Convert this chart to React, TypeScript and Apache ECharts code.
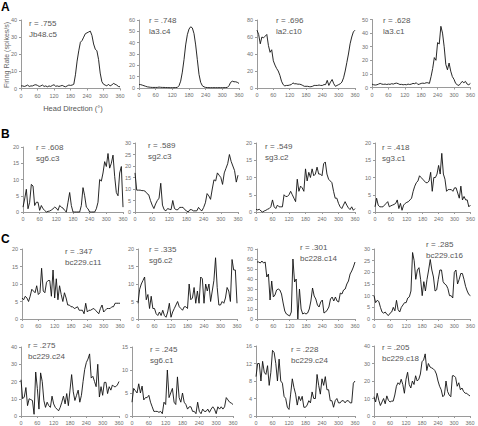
import React, { useEffect, useRef } from "react";
import * as echarts from "echarts";

const ANGLES = [
  0, 6, 12, 18, 24, 30, 36, 42, 48, 54,
  60, 66, 72, 78, 84, 90, 96, 102, 108, 114,
  120, 126, 132, 138, 144, 150, 156, 162, 168, 174,
  180, 186, 192, 198, 204, 210, 216, 222, 228, 234,
  240, 246, 252, 258, 264, 270, 276, 282, 288, 294,
  300, 306, 312, 318, 324, 330, 336, 342, 348, 354,
  360,
];

const X_TICK_STEP = 60;
const X_MAX = 360;

const jb48c5 = [
  1.5, 1.5, 1.2, 1.5, 2, 1.2, 1.5, 1.5, 2, 2.2,
  1.8, 1.2, 1.5, 2, 1.2, 1.5, 1, 1.5, 1.2, 1.8,
  2.2, 1.3, 1.5, 1.2, 1.5, 1.8, 1.3, 1, 1.5, 2,
  1.8, 2, 2.5, 8, 16, 22, 27, 28, 30, 32,
  32.5, 33, 33.5, 31, 26, 23, 22, 17, 9, 4,
  2.5, 2, 1.5, 2.5, 1.5, 2, 3, 2.5, 2, 1.2,
  1,
];
const la3c4 = [
  3, 3, 2.5, 2, 1.5, 1, 0.8, 0.6, 0.5, 0.5,
  0.5, 0.5, 0.8, 0.6, 0.5, 0.5, 0.4, 0.4, 0.3, 0.3,
  0.3, 0.3, 0.4, 0.5, 2, 6, 14, 25, 38, 47,
  52, 54, 53, 48, 38, 25, 12, 5, 2, 1,
  0.5, 0.4, 0.3, 0.3, 0.3, 0.3, 0.3, 0.3, 0.3, 0.3,
  0.3, 0.3, 0.4, 0.5, 2, 5, 6, 5.5, 5.5, 5,
  4,
];
const la2c10 = [
  68, 63, 52, 60, 59, 61, 63, 50, 42, 45,
  32, 27, 23, 20, 15, 8, 4, 2.5, 3, 3,
  3.5, 4, 6, 5, 5, 4.5, 4.5, 4, 3, 2,
  2, 2, 1.5, 1.5, 2, 3, 3, 3, 3.5, 3,
  3, 4, 4, 9, 3, 7, 10, 5, 2, 3,
  4, 5, 7, 12, 20, 30, 40, 52, 60, 66,
  68,
];
const la3c1 = [
  2.5, 2, 1.8, 2, 2.5, 3, 2.5, 2.3, 2.5, 2.2,
  2.5, 2.3, 2.8, 2.5, 3, 3.2, 2.8, 2.2, 2.3, 2,
  2.2, 2, 2.5, 2.2, 2.5, 3, 2.8, 3.5, 2.2, 2.5,
  3, 3.2, 3, 3.5, 3.5, 3, 8, 14, 22, 20,
  33, 32, 45, 40, 30, 17, 13, 18, 12, 8,
  6, 3, 2, 1.5, 3, 4.5, 3.5, 4.5, 2.5, 2,
  3,
];
const sg6c3 = [
  1.5, 4, 7, 1, 3, 8.5, 8, 2, 3, 3,
  0.5, 2, 1, 0.5, 0, 0.2, 0.3, 0.6, 1, 1.5,
  1.2, 0.5, 2, 1.5, 1.2, 0.5, 0, 3, 6, 2,
  0, 0, 0, 0, 0, 2, 7.5, 5, 1.5, 1,
  0, 0, 0, 0, 1, 3, 10, 9.5, 12, 15.5,
  14, 18, 13.5, 15, 17.5, 11, 6, 5, 12, 14,
  1.5,
];
const sg2c3 = [
  17, 9.5, 9.5, 9.5, 9.3, 9.3, 9, 8, 7.5, 5,
  3, 1.5, 3.5, 5, 6, 12.5, 3, 1, 0.5, 1.5,
  1.2, 1, 5, 1.5, 1, 1, 2, 2, 2, 1,
  0.5, 0, 1, 1, 0.5, 0.5, 0.5, 2, 1, 0.5,
  2, 4, 8, 7, 5.5, 10, 14, 13.5, 17, 16,
  15, 12, 17, 19, 21, 25, 22, 20, 18, 13,
  16,
];
const sg3c2 = [
  0.8, 0.6, 0.8, 0.3, 0, 0.3, 0.5, 0.8, 1, 1.5,
  3.5, 1.5, 1, 2, 1.5, 1.5, 1.5, 5, 4.5, 4.5,
  5, 6, 5, 4, 3, 9.5, 6, 7.5, 7, 6,
  12.5, 9, 11.5, 10, 12.5, 10.5, 11, 13, 11, 11,
  10.5, 14, 14.5, 11, 9.5, 9, 8.5, 6, 4, 4,
  2.5, 1.5, 1, 2, 3, 2, 1.2, 0.7, 1.5, 0.5,
  1,
];
const sg3c1 = [
  1.5, 4, 2, 1.5, 1.5, 1.5, 2, 2.5, 3, 1.5,
  1.8, 2, 2.2, 2.5, 3.5, 1, 2.5, 0.5, 2, 2.5,
  2.8, 3, 3.5, 4, 6, 7.5, 8.5, 9, 10.5, 10,
  9.5, 9, 8.5, 8.5, 9, 11.5, 6, 10, 10, 11,
  13.5, 11, 17, 11, 9.5, 6, 6.5, 6.5, 6.5, 6,
  7, 7, 5.5, 4, 7.5, 3.5, 4.5, 3.5, 3.5, 1.5,
  2,
];
const bc229c11 = [
  6, 5.5, 6.5, 6, 5, 6.5, 8.5, 8, 7.5, 9.5,
  7, 7.5, 14.5, 8, 7.5, 10.5, 11, 11, 6.5, 14,
  6, 11.5, 5.5, 9.5, 7, 5, 7.5, 6, 4, 4,
  3.5, 3.5, 3, 3.2, 3.5, 2.5, 2.5, 2.5, 1.5, 4.5,
  2, 2.5, 2.5, 2.8, 3, 2.5, 2, 1.5, 3, 4,
  2, 2.5, 3, 3, 3, 3.5, 3.5, 4.5, 4.5, 4.5,
  4.5,
];
const sg6c2 = [
  4.5, 8.5, 10, 11, 12, 5.5, 7, 3, 6.5, 3,
  3, 1.5, 1, 2, 1, 2.5, 1, 0.5, 2, 4.5,
  0.5, 2, 3, 4, 5, 3.5, 3, 2.5, 3.5, 3.5,
  3, 10, 5.5, 6, 9, 4.5, 8, 4.5, 12, 11.5,
  4.5, 10, 8, 10, 5, 8, 11, 17.5, 9, 4,
  4, 5, 4.5, 6, 9, 8, 5, 17, 14, 14,
  4.5,
];
const bc228c14 = [
  57, 57, 56, 58, 56, 57, 42, 45, 19, 38,
  22, 24, 29, 30, 29, 25, 16, 8, 5, 4,
  3, 7, 60, 37, 40, 0, 30, 10, 5, 6,
  5, 6, 10, 18, 31, 23, 20, 14, 12, 17,
  19, 6, 7, 9, 12, 20, 22, 18, 22, 18,
  17, 26, 25, 29, 30, 35, 38, 45, 48, 52,
  57,
];
const bc229c16 = [
  10, 7, 8, 7.5, 5, 3, 2.5, 3, 2, 1.5,
  2.5, 3, 5, 3.5, 8, 4, 3, 5, 6, 7,
  7, 9, 9.5, 12, 28.5, 25, 17, 21, 22, 17,
  10, 16, 12, 17, 21, 25.5, 21, 18, 12, 12.5,
  17, 21, 21, 16, 15, 14.5, 13, 10, 10, 9,
  20, 21, 15, 17, 19.5, 19.5, 17, 14, 12, 10.5,
  10,
];
const bc229c24a = [
  21, 10, 11, 16.5, 6, 10, 9.5, 9, 1, 25.5,
  16, 4, 25, 20, 9, 5, 8, 6, 5, 11.5,
  7, 5, 4, 3, 5, 8, 11.5, 7, 13, 6,
  15, 24, 14, 9, 12, 15, 8, 12, 20, 27,
  31, 33, 36, 22, 23, 20, 17, 30, 11, 17,
  12, 19.5, 19.5, 13, 17, 15, 18, 17, 17, 18,
  20,
];
const sg6c1 = [
  3, 6, 5.5, 5, 7, 5, 6.5, 3.5, 4, 4,
  4.5, 3, 2, 1, 1, 1, 0.8, 1, 0.5, 3,
  2.5, 10, 4, 5, 6, 3, 2.5, 8.5, 4, 3,
  5, 3, 2.5, 1.5, 2, 2, 1, 1, 0.5, 3,
  1, 0.5, 1.5, 1, 1, 1.5, 0.8, 1.5, 2, 1.5,
  0.5, 2, 1.5, 2, 1.5, 2, 4, 3.5, 3, 2.8,
  2.5,
];
const bc229c24b = [
  9, 12, 12, 8, 12.5, 10, 9.5, 11.5, 7, 10,
  15, 14.5, 12, 8, 13, 8, 7.5, 4.5, 4, 2,
  1.5, 5, 8.5, 6.5, 5, 2.5, 4.5, 3.5, 4.5, 2,
  2, 2.5, 3.5, 3, 5.5, 4, 4, 9.5, 7, 5,
  8.5, 7, 9, 6, 6, 3.5, 3.5, 2, 3.5, 4,
  3, 3, 3.5, 3.5, 3, 3.5, 3.5, 3, 3, 7.5,
  8,
];
const bc229c18 = [
  11, 8, 13, 9, 6, 8, 10, 7, 11.5, 9,
  8, 8.5, 8.5, 12, 17, 19, 18, 21, 18, 13,
  21, 25, 18, 16, 20, 18, 23, 20, 21, 24,
  31, 32, 35.5, 26, 30, 28, 27.5, 27, 26, 24,
  20, 17, 15, 11, 12, 20, 14, 12, 11, 23,
  23, 22, 17, 19, 15, 16, 14, 13, 13, 12,
  11.5,
];

const SERIES_VALUES = [
  jb48c5, la3c4, la2c10, la3c1,
  sg6c3, sg2c3, sg3c2, sg3c1,
  bc229c11, sg6c2, bc228c14, bc229c16,
  bc229c24a, sg6c1, bc229c24b, bc229c18,
];
const CELL_NAMES = [
  "Jb48.c5", "la3.c4", "la2.c10", "la3.c1",
  "sg6.c3", "sg2.c3", "sg3.c2", "sg3.c1",
  "bc229.c11", "sg6.c2", "bc228.c14", "bc229.c16",
  "bc229.c24", "sg6.c1", "bc229.c24", "bc229.c18",
];
const R_VALUES = [
  ".755", ".748", ".696", ".628",
  ".608", ".589", ".549", ".418",
  ".347", ".335", ".301", ".285",
  ".275", ".245", ".228", ".205",
];
const Y_MAX = [40, 60, 80, 50, 20, 30, 20, 20, 20, 20, 70, 30, 40, 15, 16, 40];
const Y_STEP = [10, 10, 20, 10, 5, 5, 5, 5, 5, 5, 10, 5, 10, 5, 4, 10];
const PANEL_LETTERS = ["A", "B", "C"];

// layout: [left, top, width, height, textX, textY]
const LAYOUT = [
  [21, 20, 99, 68.5, 29, 23],
  [139, 20, 100, 68, 149, 20],
  [257, 20, 98, 68, 276, 20],
  [372, 19.5, 99, 68, 383, 20],
  [23, 147, 100, 65, 36, 147],
  [135, 143, 103, 69, 148, 145],
  [256, 143, 99, 69, 265, 146],
  [375, 143, 98, 69, 382, 147],
  [22, 249, 98, 70, 65, 251],
  [138, 249, 99, 70, 149, 249],
  [257, 249, 98, 70, 300, 247],
  [374, 249, 97, 70, 426, 244],
  [21, 347, 98, 69, 28, 345],
  [132, 347, 101, 69, 150, 349],
  [256, 346, 99, 70, 291, 349],
  [374, 346, 96, 70, 382, 347],
];
const LETTER_Y = [6.5, 133.5, 239];

const AXIS_COLOR = "#9a9a9a";
const LABEL_COLOR = "#6f6f6f";
const FONT = "'Liberation Sans', Arial, sans-serif";

export default function App() {
  const ref = useRef<HTMLDivElement>(null);
  useEffect(() => {
    if (!ref.current) return;
    const chart = echarts.init(ref.current, undefined, { renderer: "svg" });
    const grids: any[] = [];
    const xAxes: any[] = [];
    const yAxes: any[] = [];
    const series: any[] = [];
    const graphics: any[] = [];
    SERIES_VALUES.forEach((vals, i) => {
      const [l, t, w, h, tx, ty] = LAYOUT[i];
      grids.push({ left: l, top: t, width: w, height: h });
      xAxes.push({
        type: "value",
        gridIndex: i,
        min: 0,
        max: X_MAX,
        interval: X_TICK_STEP,
        axisLine: { show: true, lineStyle: { color: AXIS_COLOR, width: 1 } },
        axisTick: { show: true, length: 2, lineStyle: { color: AXIS_COLOR } },
        axisLabel: { fontSize: 5.5, color: LABEL_COLOR, margin: 4, fontFamily: FONT },
        splitLine: { show: false },
      });
      yAxes.push({
        type: "value",
        gridIndex: i,
        min: 0,
        max: Y_MAX[i],
        interval: Y_STEP[i],
        axisLine: { show: true, lineStyle: { color: AXIS_COLOR, width: 1 } },
        axisTick: { show: true, length: 2, lineStyle: { color: AXIS_COLOR } },
        axisLabel: { fontSize: 5.5, color: LABEL_COLOR, margin: 4, fontFamily: FONT },
        splitLine: { show: false },
      });
      series.push({
        type: "line",
        xAxisIndex: i,
        yAxisIndex: i,
        data: ANGLES.map((a, k) => [a, vals[k]]),
        showSymbol: false,
        symbol: "none",
        lineStyle: { color: "#111", width: 0.9 },
        clip: false,
      });
      graphics.push({
        type: "text",
        x: tx,
        y: ty,
        style: {
          text: "r = " + R_VALUES[i],
          fill: "#555",
          fontSize: 8,
          fontFamily: FONT,
          textVerticalAlign: "middle",
        },
      });
      graphics.push({
        type: "text",
        x: tx,
        y: ty + 11,
        style: {
          text: CELL_NAMES[i],
          fill: "#555",
          fontSize: 8,
          fontFamily: FONT,
          textVerticalAlign: "middle",
        },
      });
    });
    PANEL_LETTERS.forEach((letter, j) => {
      graphics.push({
        type: "text",
        x: 1,
        y: LETTER_Y[j],
        style: {
          text: letter,
          fill: "#000",
          fontSize: 12,
          fontWeight: "bold",
          fontFamily: FONT,
          textVerticalAlign: "middle",
        },
      });
    });
    graphics.push({
      type: "text",
      x: 6,
      y: 55,
      rotation: Math.PI / 2,
      style: {
        text: "Firing Rate (spikes/s)",
        fill: "#666",
        fontSize: 7,
        fontFamily: FONT,
        textAlign: "center",
        textVerticalAlign: "middle",
      },
    });
    graphics.push({
      type: "text",
      x: 73,
      y: 108,
      style: {
        text: "Head Direction (°)",
        fill: "#555",
        fontSize: 7.5,
        fontFamily: FONT,
        textAlign: "center",
        textVerticalAlign: "middle",
      },
    });
    chart.setOption({
      animation: false,
      backgroundColor: "#fff",
      grid: grids,
      xAxis: xAxes,
      yAxis: yAxes,
      series,
      graphic: graphics,
    });
    return () => chart.dispose();
  }, []);
  return (
    <div
      ref={ref}
      style={{ position: "fixed", left: 0, top: 0, width: 478, height: 426 }}
    />
  );
}
